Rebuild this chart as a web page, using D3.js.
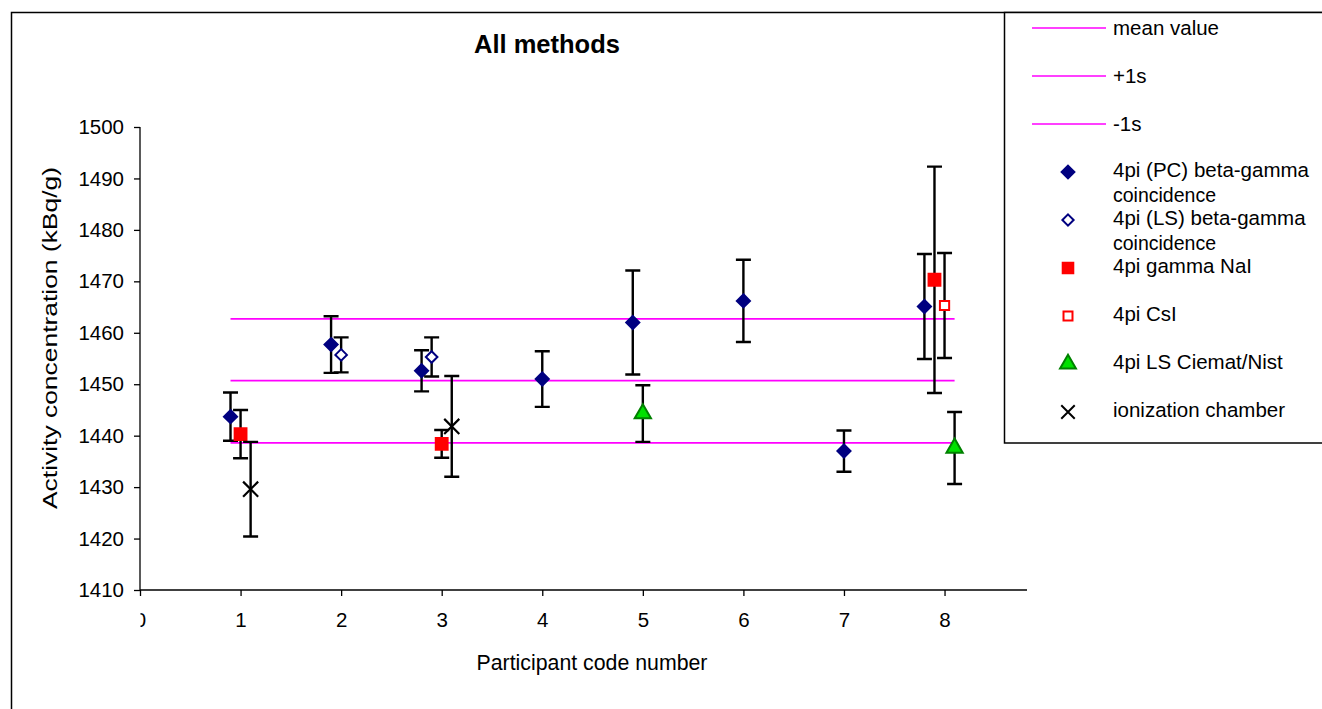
<!DOCTYPE html>
<html>
<head>
<meta charset="utf-8">
<script src="https://d3js.org/d3.v7.min.js"></script>
<style>
    body { margin: 0; background: #fff; }
    svg text { font-family: "Liberation Sans", Arial, sans-serif; fill: #000; }
</style>
</head>
<body>
<svg id="chart" width="1322" height="709"></svg>
<script>
// reference lines
const meanValue = 1450.7;
const plusOneS = 1462.7;
const minusOneS = 1438.6;
const refLineX = [0.9, 8.1];

// 4pi (PC) beta-gamma coincidence
const pcX = [0.9, 1.9, 2.8, 4, 4.9, 6, 7, 7.8];
const pcY = [1443.7, 1457.7, 1452.6, 1451.0, 1462.0, 1466.2, 1437.0, 1465.1];
const pcErr = [4.7, 5.5, 4.0, 5.4, 10.1, 8.0, 4.0, 10.2];

// 4pi (LS) beta-gamma coincidence
const lsX = [2, 2.9];
const lsY = [1455.7, 1455.3];
const lsErr = [3.4, 3.8];

// 4pi gamma NaI
const naiX = [1, 3, 7.9];
const naiY = [1440.3, 1438.4, 1470.3];
const naiErr = [4.7, 2.7, 22.0];

// 4pi CsI
const csiX = [8];
const csiY = [1465.3];
const csiErr = [10.2];

// 4pi LS Ciemat/Nist
const cnX = [5, 8.1];
const cnY = [1444.3, 1437.6];
const cnErr = [5.5, 7.0];

// ionization chamber
const icX = [1.1, 3.1];
const icY = [1429.6, 1441.8];
const icErr = [9.2, 9.8];

const xTicks = [0, 1, 2, 3, 4, 5, 6, 7, 8];
const yTicks = [1410, 1420, 1430, 1440, 1450, 1460, 1470, 1480, 1490, 1500];

const svg = d3.select("#chart");

const plot = { left: 140, right: 1027, top: 127, bottom: 590 };

const x = d3.scaleLinear().domain([0, 8.82]).range([plot.left, plot.right]);
const y = d3.scaleLinear().domain([1410, 1500]).range([plot.bottom, plot.top]);

// outer chart border
svg.append("rect")
    .attr("x", 11.5)
    .attr("y", 12.5)
    .attr("width", 1400)
    .attr("height", 800)
    .attr("fill", "none")
    .attr("stroke", "#000")
    .attr("stroke-width", 1.5);

svg.append("text")
    .attr("x", 547)
    .attr("y", 53)
    .attr("text-anchor", "middle")
    .attr("font-size", 25.5)
    .attr("font-weight", "bold")
    .text("All methods");

// axes
const yAxis = d3.axisLeft(y).tickValues(yTicks).tickSize(6).tickPadding(10).tickFormat(d3.format("d"));
const yg = svg.append("g")
    .attr("transform", "translate(" + plot.left + ",0)")
    .call(yAxis);

const xAxis = d3.axisBottom(x).tickValues(xTicks).tickSize(6).tickPadding(16).tickFormat(d3.format("d"));
const xg = svg.append("g")
    .attr("transform", "translate(0," + plot.bottom + ")")
    .call(xAxis);

[yg, xg].forEach(function(g) {
    g.select(".domain").attr("stroke", "#000").attr("stroke-width", 1.3);
    g.selectAll(".tick line").attr("stroke", "#000").attr("stroke-width", 1.3);
    g.selectAll(".tick text")
        .attr("font-size", 20.5)
        .attr("font-family", "Liberation Sans, Arial, sans-serif")
        .attr("fill", "#000");
});
xg.select(".domain").attr("d", "M" + plot.left + ",0H" + plot.right);
yg.select(".domain").attr("d", "M0," + plot.bottom + "V" + plot.top);

// the "0" label is half hidden in the original
xg.selectAll(".tick").filter(function(d) { return d === 0; })
    .each(function() {
        const tick = d3.select(this);
        tick.append("clipPath").attr("id", "zeroClip")
            .append("rect").attr("x", 0).attr("y", 0).attr("width", 50).attr("height", 50);
        tick.select("text").attr("clip-path", "url(#zeroClip)");
    });

svg.append("text")
    .attr("transform", "translate(57,338) rotate(-90)")
    .attr("text-anchor", "middle")
    .attr("font-size", 21)
    .attr("textLength", 342)
    .attr("lengthAdjust", "spacingAndGlyphs")
    .text("Activity concentration (kBq/g)");

svg.append("text")
    .attr("x", 592)
    .attr("y", 670)
    .attr("text-anchor", "middle")
    .attr("font-size", 21.3)
    .text("Participant code number");

// reference lines
[meanValue, plusOneS, minusOneS].forEach(function(v) {
    svg.append("line")
        .attr("x1", x(refLineX[0]))
        .attr("x2", x(refLineX[1]))
        .attr("y1", y(v))
        .attr("y2", y(v))
        .attr("stroke", "#ff00ff")
        .attr("stroke-width", 1.8);
});

const symbols = {
    pc: { shape: d3.symbolDiamond2, size: 110, fill: "#000080", stroke: "#000080" },
    ls: { shape: d3.symbolDiamond2, size: 85, fill: "#fff", stroke: "#000080" },
    nai: { shape: d3.symbolSquare, size: 140, fill: "#ff0000", stroke: "#ff0000" },
    csi: { shape: d3.symbolSquare, size: 85, fill: "#fff", stroke: "#ff0000" },
    cn: { shape: d3.symbolTriangle, size: 115, fill: "#00e000", stroke: "#008000" },
    ic: { shape: d3.symbolX, size: 150, fill: "none", stroke: "#000" }
};

function drawSeries(xs, ys, errs, key) {
    const data = xs.map(function(d, i) { return { x: d, y: ys[i], e: errs[i] }; });
    const g = svg.append("g");

    g.selectAll(".err")
        .data(data)
        .enter()
        .append("path")
        .attr("d", function(d) {
            const cx = x(d.x), t = y(d.y + d.e), b = y(d.y - d.e);
            return "M" + cx + "," + t + "V" + b +
                "M" + (cx - 7.5) + "," + t + "H" + (cx + 7.5) +
                "M" + (cx - 7.5) + "," + b + "H" + (cx + 7.5);
        })
        .attr("stroke", "#000")
        .attr("stroke-width", 2.4)
        .attr("fill", "none");

    drawMarker(g, data, key);
}

function drawMarker(g, data, key) {
    const s = symbols[key];
    g.selectAll(".mark")
        .data(data)
        .enter()
        .append("path")
        .attr("transform", function(d) { return "translate(" + x(d.x) + "," + y(d.y) + ")"; })
        .attr("d", d3.symbol().type(s.shape).size(s.size))
        .attr("fill", s.fill)
        .attr("stroke", s.stroke)
        .attr("stroke-width", key === "ic" ? 2.2 : 2);
}

drawSeries(pcX, pcY, pcErr, "pc");
drawSeries(lsX, lsY, lsErr, "ls");
drawSeries(naiX, naiY, naiErr, "nai");
drawSeries(csiX, csiY, csiErr, "csi");
drawSeries(cnX, cnY, cnErr, "cn");
drawSeries(icX, icY, icErr, "ic");

// legend
const legend = svg.append("g");
legend.append("rect")
    .attr("x", 1004.5)
    .attr("y", 12.5)
    .attr("width", 400)
    .attr("height", 430.5)
    .attr("fill", "#fff")
    .attr("stroke", "#000")
    .attr("stroke-width", 1.5);

const lineItems = ["mean value", "+1s", "-1s"];
lineItems.forEach(function(label, i) {
    const ly = 28 + i * 48;
    legend.append("line")
        .attr("x1", 1032).attr("x2", 1106)
        .attr("y1", ly).attr("y2", ly)
        .attr("stroke", "#ff00ff")
        .attr("stroke-width", 1.3);
    legend.append("text")
        .attr("x", 1113)
        .attr("y", ly + 7)
        .attr("font-size", 20.5)
        .text(label);
});

const markerItems = [
    { key: "pc", lines: ["4pi (PC) beta-gamma", "coincidence"] },
    { key: "ls", lines: ["4pi (LS) beta-gamma", "coincidence"] },
    { key: "nai", lines: ["4pi gamma NaI"] },
    { key: "csi", lines: ["4pi CsI"] },
    { key: "cn", lines: ["4pi LS Ciemat/Nist"] },
    { key: "ic", lines: ["ionization chamber"] }
];
markerItems.forEach(function(item, i) {
    const ly = 172 + i * 48;
    const s = symbols[item.key];
    const sz = item.key === "nai" || item.key === "ic" ? s.size * 0.8 : s.size * 0.95;
    legend.append("path")
        .attr("transform", "translate(1068," + ly + ")")
        .attr("d", d3.symbol().type(s.shape).size(sz))
        .attr("fill", s.fill)
        .attr("stroke", s.stroke)
        .attr("stroke-width", 2);
    item.lines.forEach(function(t, j) {
        legend.append("text")
            .attr("x", 1113)
            .attr("y", ly + 5 + j * 25)
            .attr("font-size", j === 0 ? 20.5 : 19.5)
            .text(t);
    });
});
</script>
</body>
</html>
